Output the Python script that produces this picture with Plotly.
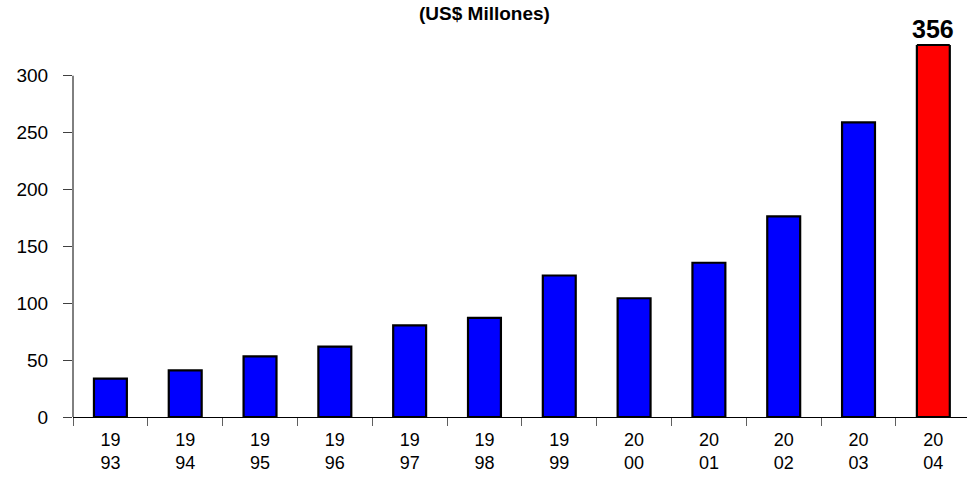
import plotly.graph_objects as go

# Annual values, US$ millions
years = ["1993", "1994", "1995", "1996", "1997", "1998",
         "1999", "2000", "2001", "2002", "2003", "2004"]
values = [33.7, 41, 53.3, 61.9, 80.6, 87.1, 124.4, 104.4, 135.6, 176.3, 259, 356]
y_ticks = [0, 50, 100, 150, 200, 250, 300]
title_text = "(US$ Millones)"

highlight_year = "2004"
bar_width = 0.44
colors = ["#FF0000" if y == highlight_year else "#0000FF" for y in years]
tick_text = [y[:2] + "<br>" + y[2:] for y in years]

fig = go.Figure(
    go.Bar(
        x=years,
        y=values,
        width=bar_width,
        marker=dict(color=colors, line=dict(color="#000000", width=2.2)),
        hoverinfo="x+y",
    )
)

hi = years.index(highlight_year)
hv = values[hi]

fig.update_layout(
    width=967,
    height=477,
    margin=dict(l=73, r=0, t=45, b=60),
    paper_bgcolor="white",
    plot_bgcolor="white",
    showlegend=False,
    font=dict(family="Liberation Sans, Arial, sans-serif", size=19, color="#000000"),
    xaxis=dict(
        type="category",
        range=[-0.5, len(years) - 0.55],
        tickvals=years,
        ticktext=tick_text,
        tickson="boundaries",
        ticks="outside",
        ticklen=8,
        tickwidth=1,
        tickcolor="#606060",
        ticklabelstandoff=6,
        showline=True,
        linecolor="#000000",
        linewidth=1,
        showgrid=False,
        zeroline=False,
        tickfont=dict(size=18),
    ),
    yaxis=dict(
        range=[0, 327],
        tickvals=y_ticks,
        ticks="outside",
        ticklen=9,
        tickwidth=1,
        tickcolor="#404040",
        showline=False,
        showgrid=False,
        zeroline=False,
        ticklabelstandoff=11,
        tickfont=dict(size=19),
    ),
    shapes=[
        # value axis line running from 0 up to the last labelled tick
        dict(type="line", xref="paper", yref="y", x0=0, x1=0,
             y0=y_ticks[0], y1=y_ticks[-1], line=dict(color="#000000", width=1)),
        # top edge of the bar that runs past the plot area
        dict(type="line", xref="x", yref="paper", x0=hi - bar_width / 2, x1=hi + bar_width / 2,
             y0=1, y1=1, line=dict(color="#000000", width=2.2)),
    ],
    annotations=[
        dict(text=f"<b>{hv:.0f}</b>", x=hi, xref="x", y=1, yref="paper",
             yanchor="bottom", yshift=0, showarrow=False,
             font=dict(size=25, color="#000000")),
        dict(text=f"<b>{title_text}</b>", x=0.46, xref="paper", y=1, yref="paper",
             yanchor="top", yshift=44, showarrow=False,
             font=dict(size=19, color="#000000")),
    ],
)

fig.write_html("out.html")
